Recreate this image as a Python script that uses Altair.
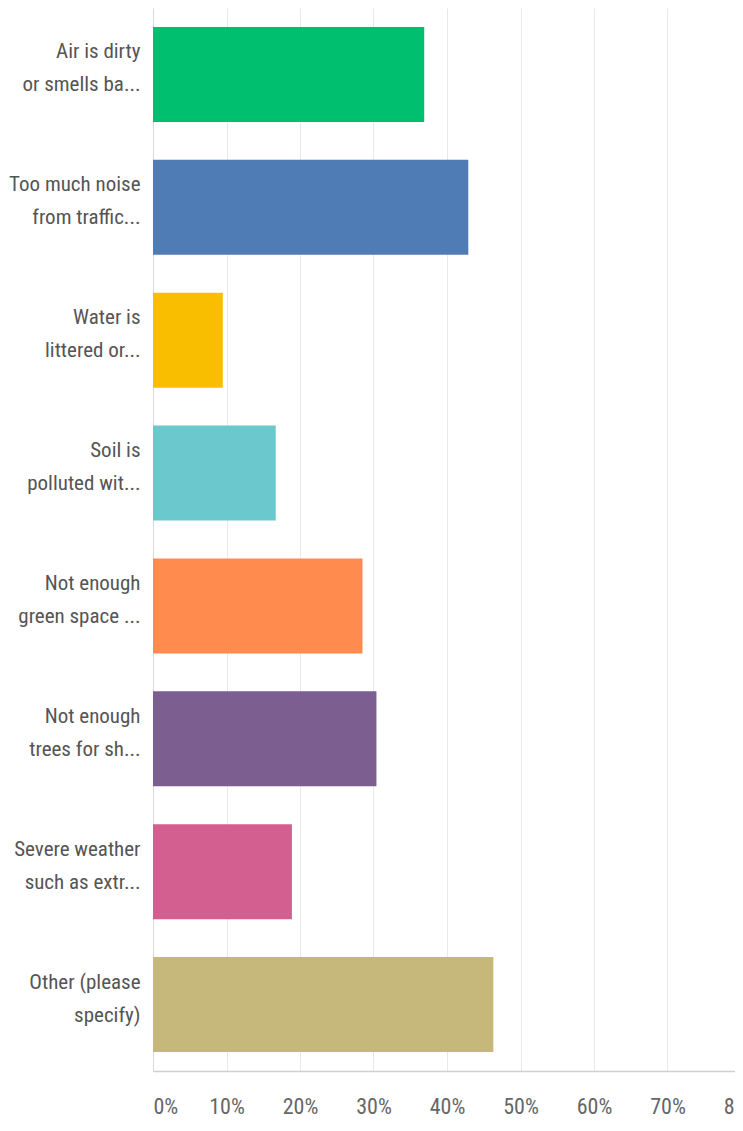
import altair as alt
import pandas as pd

categories = [
    "Air is dirty\nor smells ba...",
    "Too much noise\nfrom traffic...",
    "Water is\nlittered or...",
    "Soil is\npolluted wit...",
    "Not enough\ngreen space ...",
    "Not enough\ntrees for sh...",
    "Severe weather\nsuch as extr...",
    "Other (please\nspecify)",
]
values = [0.369, 0.429, 0.095, 0.167, 0.285, 0.304, 0.189, 0.463]
colors = ["#00BF6F", "#507CB6", "#F9BE00", "#6BC8CD", "#FF8B4F", "#7D5E90", "#D25F90", "#C5B87A"]
tick_values = [0, 0.1, 0.2, 0.3, 0.4, 0.5, 0.6, 0.7, 0.8]

df = pd.DataFrame({"answer": categories, "share": values, "color": colors})

FONT = "Roboto Condensed, Noto Sans Condensed, Liberation Sans Narrow, DejaVu Sans Condensed, sans-serif"

chart = (
    alt.Chart(df)
    .mark_bar(cornerRadius=0)
    .encode(
        x=alt.X(
            "share:Q",
            scale=alt.Scale(domain=[0, 0.8], nice=False, zero=True),
            axis=alt.Axis(
                title=None,
                values=tick_values,
                format=".0%",
                ticks=False,
                grid=True,
                gridColor="#e8e8e8",
                gridWidth=1,
                domain=True,
                domainColor="#cfcfcf",
                domainWidth=1.5,
                labelFont=FONT,
                labelFontSize=22,
                labelColor="#666666",
                labelPadding=25,
                labelAlign=alt.ConditionalAxisLabelAlign(
                    condition={"test": "datum.value == 0", "value": "left"},
                    value="center",
                ),
                labelFlush=False,
                labelOverlap=False,
            ),
        ),
        y=alt.Y(
            "answer:N",
            sort=categories,
            scale=alt.Scale(paddingInner=0.285, paddingOuter=0.143),
            axis=alt.Axis(
                title=None,
                ticks=False,
                domain=True,
                domainColor="#d9d9d9",
                domainWidth=1,
                grid=False,
                labelExpr="split(datum.label, '\\n')",
                labelFont=FONT,
                labelFontSize=21,
                labelColor="#555555",
                labelLineHeight=33,
                labelPadding=13,
                labelLimit=200,
                labelOffset=-22,
            ),
        ),
        color=alt.Color("color:N", scale=None, legend=None),
    )
    .properties(
        width=588,
        height=1063,
        autosize=alt.AutoSizeParams(type="none"),
        padding={"left": 145, "top": 0, "right": -6, "bottom": 52},
    )
    .configure_view(stroke=None)
)

chart.save("out.html", embed_options={"renderer": "svg", "actions": False})
